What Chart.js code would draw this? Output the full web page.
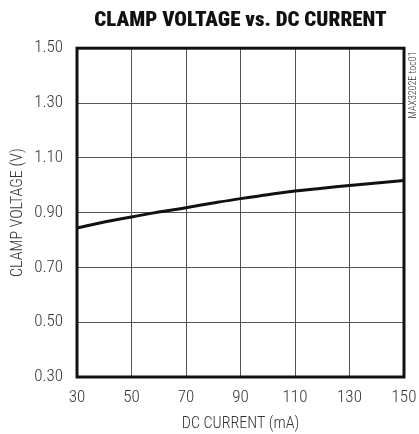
<!DOCTYPE html>
<html>
<head>
<meta charset="utf-8">
<script src="https://cdn.jsdelivr.net/npm/chart.js@4"></script>
<style>
html,body{margin:0;padding:0;background:#fff;}
</style>
</head>
<body>
<canvas id="chart" width="419" height="434"></canvas>
<script>
// ================= DATA =================
const currentMa = [30, 40, 50, 60, 70, 80, 90, 100, 110, 120, 130, 140, 150];
const clampVolts = [0.844, 0.866, 0.884, 0.902, 0.918, 0.935, 0.951, 0.965, 0.979, 0.989, 0.999, 1.008, 1.017];
const xTicks = [30, 50, 70, 90, 110, 130, 150];
const yTicks = [0.30, 0.50, 0.70, 0.90, 1.10, 1.30, 1.50];

const narrow = "'Roboto Condensed', 'DejaVu Sans Condensed', sans-serif";

// frame round the plot + part number text
const framePlugin = {
  id: "frame",
  afterDatasetsDraw(chart){
    const a = chart.chartArea, ctx = chart.ctx;
    ctx.save();
    ctx.strokeStyle = "#111";
    ctx.lineWidth = 3;
    ctx.strokeRect(a.left, a.top, a.right - a.left, a.bottom - a.top);
    ctx.translate(413, 85);
    ctx.rotate(-Math.PI / 2);
    ctx.fillStyle = "#333";
    ctx.font = "300 10px " + narrow;
    ctx.textAlign = "center";
    ctx.textBaseline = "middle";
    ctx.fillText("MAX3202E toc01", 0, 0);
    ctx.restore();
  }
};

new Chart(document.getElementById("chart"), {
  type: "line",
  data: {
    datasets: [{
      data: currentMa.map((x, i) => ({x: x, y: clampVolts[i]})),
      borderColor: "#111",
      borderWidth: 3,
      pointRadius: 0,
      tension: 0.4,
      fill: false
    }]
  },
  options: {
    responsive: false,
    animation: false,
    layout: {padding: {left: 0, right: 15, top: 0, bottom: 0}},
    plugins: {
      legend: {display: false},
      tooltip: {enabled: false},
      title: {
        display: true,
        fullSize: false,
        text: "CLAMP VOLTAGE vs. DC CURRENT",
        color: "#111",
        font: {family: narrow, size: 21, weight: "900", lineHeight: 1.2},
        padding: {top: 8, bottom: 15}
      }
    },
    scales: {
      x: {
        type: "linear",
        min: 30,
        max: 150,
        afterBuildTicks(scale){ scale.ticks = xTicks.map(v => ({value: v})); },
        afterFit(scale){ scale.height = 57; scale.paddingLeft = 0; scale.paddingRight = 0; },
        grid: {color: "#555", lineWidth: 1, drawTicks: false},
        border: {display: false},
        ticks: {color: "#333", padding: 11, maxRotation: 0, font: {family: narrow, size: 17, weight: "300"}},
        title: {display: true, text: "DC CURRENT (mA)", color: "#333", padding: {top: 0, bottom: 0}, font: {family: narrow, size: 16, weight: "300"}}
      },
      y: {
        min: 0.3,
        max: 1.5,
        afterBuildTicks(scale){ scale.ticks = yTicks.map(v => ({value: v})); },
        afterFit(scale){ scale.width = 77; scale.paddingTop = 0; scale.paddingBottom = 0; },
        grid: {color: "#555", lineWidth: 1, drawTicks: false},
        border: {display: false},
        ticks: {color: "#333", padding: 14, font: {family: narrow, size: 17, weight: "300"}, callback: v => v.toFixed(2)},
        title: {display: true, text: "CLAMP VOLTAGE (V)", color: "#333", padding: {top: 8, bottom: 0}, font: {family: narrow, size: 16, weight: "300"}}
      }
    }
  },
  plugins: [framePlugin]
});
</script>
</body>
</html>
